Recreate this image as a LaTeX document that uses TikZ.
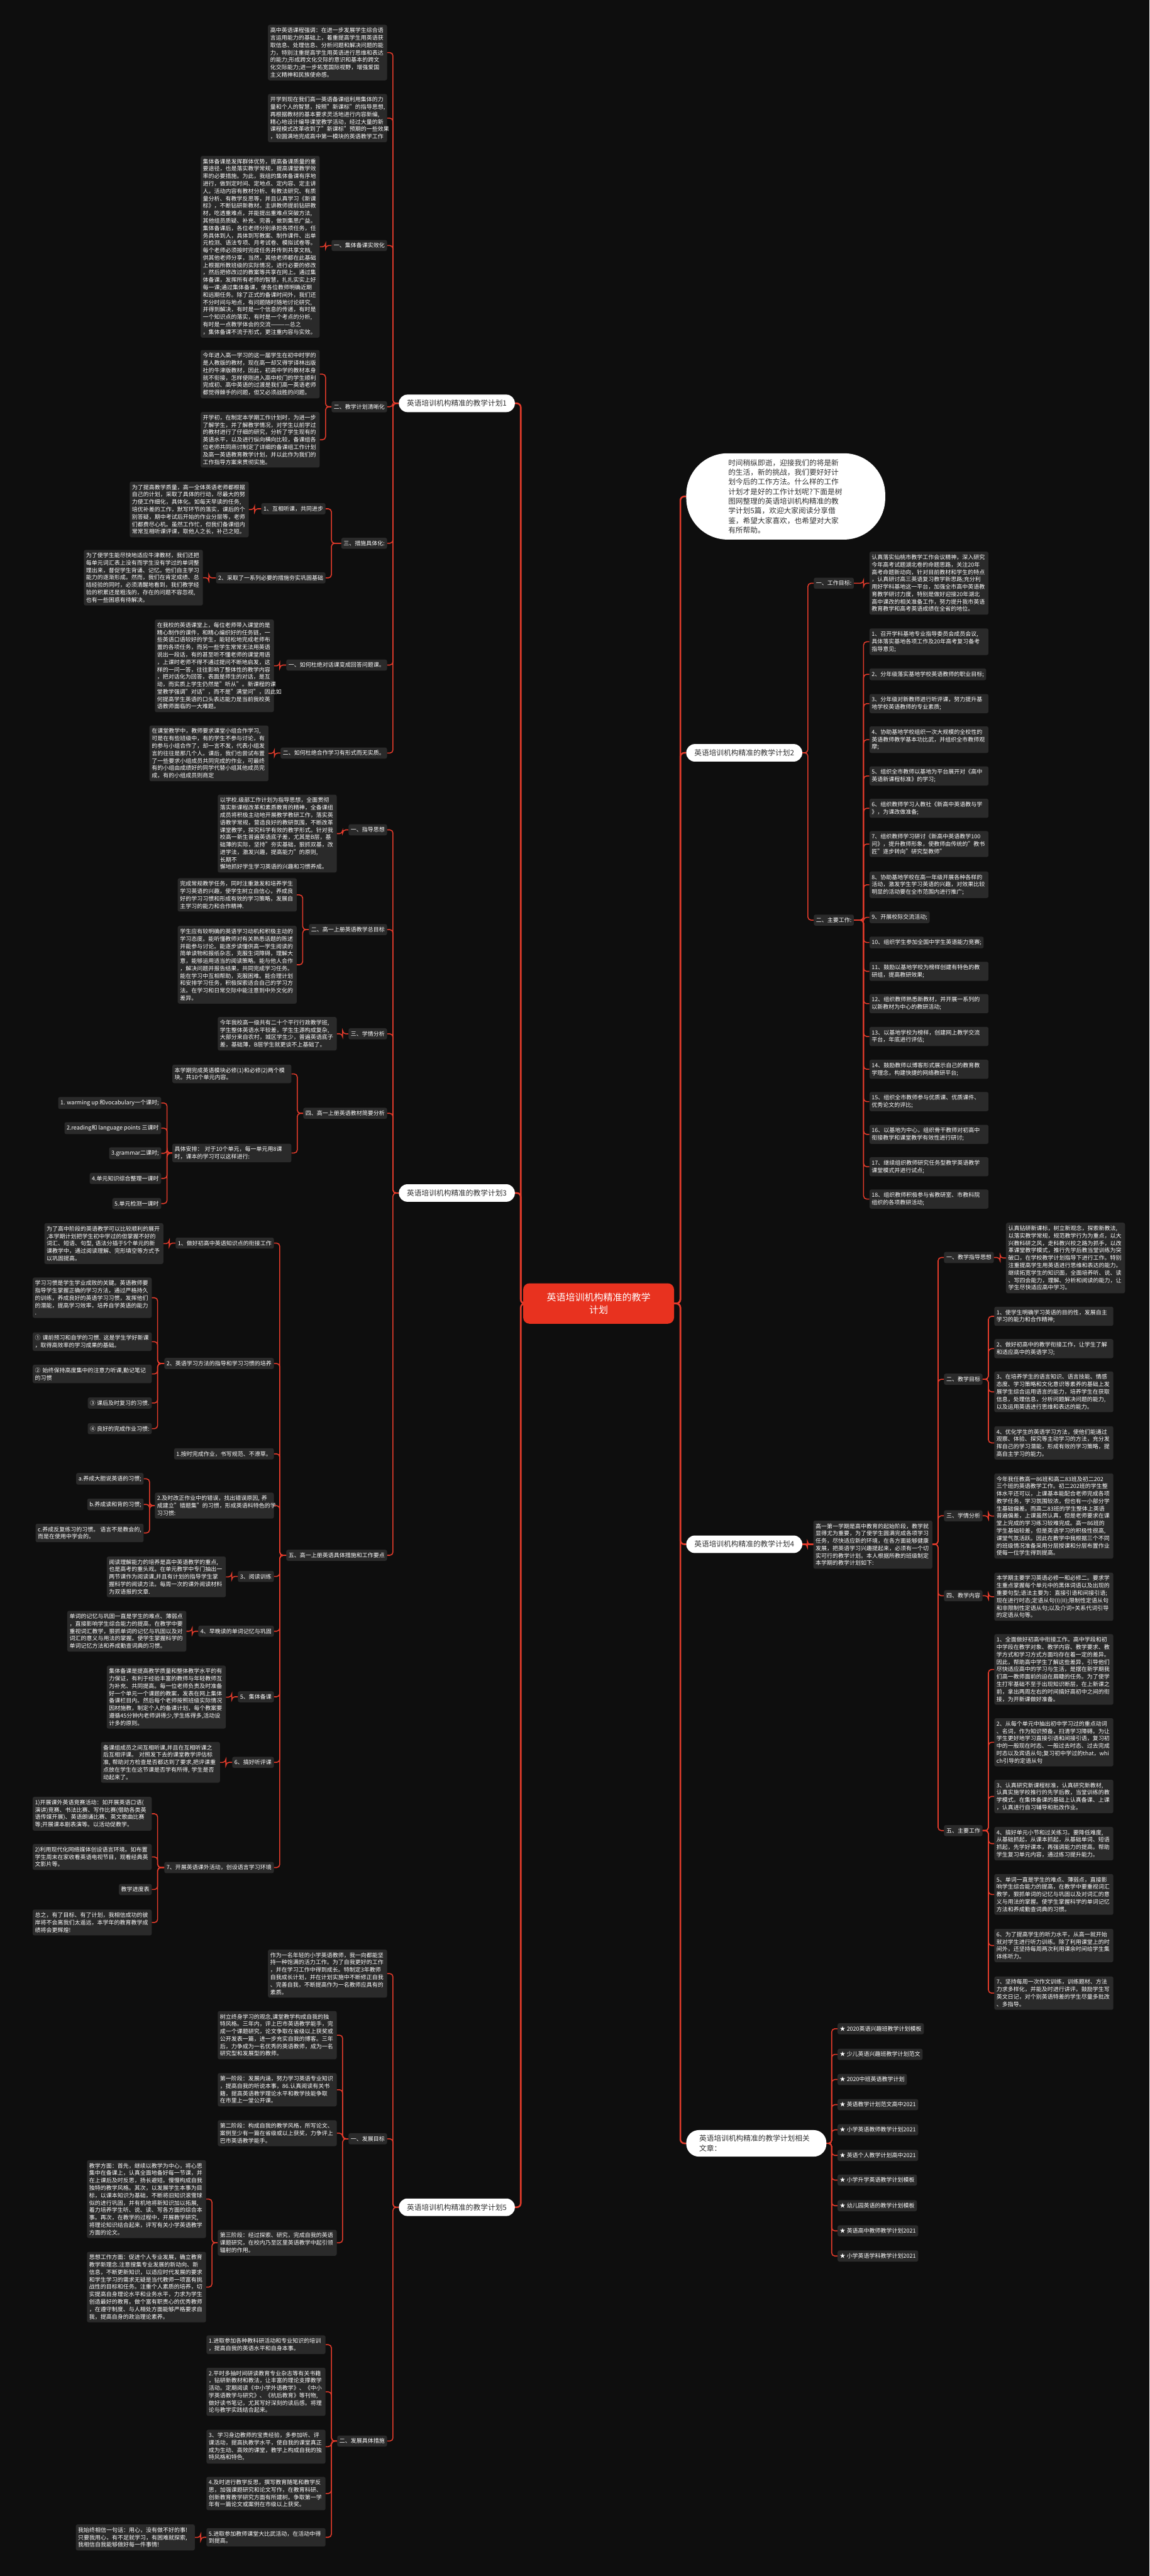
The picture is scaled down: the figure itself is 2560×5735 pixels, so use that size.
\documentclass[tikz,border=0pt]{standalone}
\usepackage{fontspec}
\setmainfont{Noto Sans CJK SC}
\definecolor{bgc}{HTML}{0E0E0E}
\definecolor{boxc}{HTML}{2A2A2A}
\definecolor{redc}{HTML}{E33B2B}
\definecolor{cenc}{HTML}{E8321F}
\definecolor{darkt}{HTML}{333333}
\pgfdeclarelayer{bg}\pgfdeclarelayer{lines}\pgfsetlayers{bg,lines,main}
\newcommand\linkL[3][conn]{\draw[#1] (#2.west) -- ([xshift=13pt]#3.east |- #2.west) -- ([xshift=13pt]#3.east) -- (#3.east);}
\newcommand\linkR[3][conn]{\draw[#1] (#2.east) -- ([xshift=-13pt]#3.west |- #2.east) -- ([xshift=-13pt]#3.west) -- (#3.west);}
\tikzset{
 box/.style={fill=boxc, rounded corners=4pt, text=white, inner xsep=5pt, inner ysep=6.5pt, font=\fontsize{12.6}{16.5}\selectfont, align=left},
 blk/.style={box, text width=255pt},
 lbl/.style={box, anchor=north east},
 rbl/.style={box, anchor=north west},
 lblk/.style={blk, anchor=north east},
 rblk/.style={blk, anchor=north west},
 plan/.style={fill=white, text=darkt, rounded corners=19pt, minimum height=39pt, inner xsep=18pt, font=\fontsize{16.4}{21}\selectfont, anchor=west},
 conn/.style={draw=redc, line width=2.2pt, rounded corners=7pt},
 mconn/.style={draw=redc, line width=3.6pt, rounded corners=9pt},
}
\begin{document}
\begin{tikzpicture}[x=1pt,y=-1pt]
\begin{pgfonlayer}{bg}
\fill[bgc] (0,0) rectangle (2560,5735);
\end{pgfonlayer}
\useasboundingbox (0,0) rectangle (2560,5735);

% ---------- centre ----------
\node[fill=cenc, text=white, rounded corners=14pt, minimum width=336pt, minimum height=90pt, align=center, font=\fontsize{21}{27}\selectfont] (C) at (1333,2902) {英语培训机构精准的教学\\计划};

% ---------- plan nodes ----------
\node[plan] (P1) at (888,898) {英语培训机构精准的教学计划1};
\node[plan] (P3) at (888,2656) {英语培训机构精准的教学计划3};
\node[plan] (P5) at (888,4914) {英语培训机构精准的教学计划5};
\node[plan] (P2) at (1528,1676) {英语培训机构精准的教学计划2};
\node[plan] (P4) at (1528,3438) {英语培训机构精准的教学计划4};
\node[fill=white, text=darkt, rounded corners=28pt, minimum width=312pt, minimum height=59pt, inner xsep=29pt, align=left, anchor=north west, font=\fontsize{16.4}{22}\selectfont, text width=254pt] (PR) at (1528,4742) {英语培训机构精准的教学计划相关\\文章：};
\node[fill=white, text=darkt, rounded corners=92pt, minimum width=443pt, minimum height=192pt, align=left, anchor=north west, font=\fontsize{16.4}{21.5}\selectfont, text width=256pt, inner xsep=93pt] (IN) at (1528,1009) {时间稍纵即逝，迎接我们的将是新\\的生活，新的挑战，我们要好好计\\划今后的工作方法。什么样的工作\\计划才是好的工作计划呢?下面是树\\图网整理的英语培训机构精准的教\\学计划5篇，欢迎大家阅读分享借\\鉴，希望大家喜欢，也希望对大家\\有所帮助。};

% ---------- plan 1 ----------
\node[lblk] (A1) at (862,55) {高中英语课程强调：在进一步发展学生综合语\\言运用能力的基础上，着重提高学生用英语获\\取信息、处理信息、分析问题和解决问题的能\\力，特别注重提高学生用英语进行思维和表达\\的能力;形成跨文化交际的意识和基本的跨文\\化交际能力;进一步拓宽国际视野，增强爱国\\主义精神和民族使命感。};
\node[lblk] (A2) at (862,209) {开学到现在我们高一英语备课组利用集体的力\\量和个人的智慧，按照"新课标"的指导思想,\\再根据教材的基本要求灵活地进行内容新编,\\精心地设计编导课堂教学活动，经过大量的新\\课程模式改革收到了"新课标"预期的一些效果\\，较圆满地完成高中第一模块的英语教学工作};
\node[lbl] (n11) at (862,534) {一、集体备课实效化};
\node[lblk] (A3) at (712,347) {集体备课是发挥群体优势，提高备课质量的重\\要途径，也是落实教学常规，提高课堂教学效\\率的必要措施。为此，我组的集体备课有序地\\进行，做到定时间、定地点、定内容、定主讲\\人。活动内容有教材分析、有教法研究、有质\\量分析、有教学反思等，并且认真学习《新课\\标》，不断钻研新教材。主讲教师提前钻研教\\材，吃透重难点，并能提出重难点突破方法,\\其他组员质疑、补充、完善，做到集思广益。\\集体备课后，各位老师分别承担各项任务，任\\务具体到人，具体到写教案、制作课件、出单\\元检测、语法专项、月考试卷、模拟试卷等。\\每个老师必须按时完成任务并传到共享文档,\\供其他老师分享，当然，其他老师都在此基础\\上根据所教班级的实际情况，进行必要的修改\\，然后把修改过的教案等共享在网上。通过集\\体备课，发挥所有老师的智慧，扎扎实实上好\\每一课;通过集体备课，使各位教师明确近期\\和远期任务。除了正式的备课时间外，我们还\\不分时间与地点，有问题随时随地讨论研究,\\并得到解决，有时是一个信息的传递，有时是\\一个知识点的落实，有时是一个考点的分析,\\有时是一点教学体会的交流————总之\\，集体备课不流于形式，更注重内容与实效。};
\node[lbl] (n12) at (862,893) {二、教学计划清晰化};
\node[lblk] (A4) at (712,779) {今年进入高一学习的这一届学生在初中时学的\\是人教版的教材，现在高一却又得学译林出版\\社的牛津版教材，因此，初高中学的教材本身\\就不衔接，怎样使刚进入高中校门的学生顺利\\完成初、高中英语的过渡是我们高一英语老师\\都觉得棘手的问题，但又必须战胜的问题。};
\node[lblk] (A5) at (712,917) {开学初，在制定本学期工作计划时，为进一步\\了解学生，并了解教学情况，对学生以前学过\\的教材进行了仔细的研究，分析了学生现有的\\英语水平，以及进行纵向横向比较，备课组各\\位老师共同商讨制定了详细的备课组工作计划\\及高一英语教育教学计划，并以此作为我们的\\工作指导方案来贯彻实施。};
\node[lbl] (n13) at (862,1197) {三、措施具体化:};
\node[lbl] (n131) at (725,1120) {1、互相听课，共同进步};
\node[lblk] (A6) at (554,1072) {为了提高教学质量，高一全体英语老师都根据\\自己的计划，采取了具体的行动，尽最大的努\\力使工作细化，具体化。如每天早读的任务,\\培优补差的工作，默写环节的落实，课后的个\\别答疑，期中考试后开始的作业分层等，老师\\们都费尽心机。虽然工作忙，但我们备课组内\\常常互相听课评课，取他人之长，补己之短。};
\node[lbl] (n132) at (725,1274) {2、采取了一系列必要的措施夯实巩固基础};
\node[lblk] (A7) at (452,1224) {为了使学生能尽快地适应牛津教材，我们还把\\每单元词汇表上没有而学生没有学过的单词整\\理出来，督促学生背诵、记忆。他们自主学习\\能力的逐渐形成。然而，我们在肯定成绩、总\\结经验的同时，必须清醒地看到，我们教学经\\验的积累还是粗浅的，存在的问题不容忽视,\\也有一些困惑有待解决。};
\node[lbl] (n14) at (862,1468) {一、如何杜绝对话课变成回答问题课。};
\node[lblk] (A8) at (610,1379) {在我校的英语课堂上，每位老师带入课堂的是\\精心制作的课件，和精心编织好的任务链，一\\些英语口语较好的学生，能轻松地完成老师布\\置的各项任务，而另一些学生常常无法用英语\\说出一段话，有的甚至听不懂老师的课堂用语\\，上课时老师不得不通过提问不断地启发，这\\样的一问一答，往往影响了整体性的教学内容\\，把对话化为回答，表面是师生的对话，是互\\动，而实质上学生仍然是"听从"。新课程的课\\堂教学强调"对话"，而不是"满堂问"，因此如\\何提高学生英语的口头表达能力是当前我校英\\语教师面临的一大难题。};
\node[lbl] (n15) at (862,1664) {二、如何杜绝合作学习有形式而无实质。};
\node[lblk] (A9) at (598,1615) {在课堂教学中，教师要求课堂小组合作学习,\\可是在有些班级中，有的学生不参与讨论，有\\的参与小组合作了，却一言不发，代表小组发\\言的往往是那几个人。课后，我们也尝试布置\\了一些要求小组成员共同完成的作业，可最终\\有的小组由成绩好的同学代替小组其他成员完\\成，有的小组成员则商定};

% ---------- plan 3 ----------
\node[lbl] (n31) at (862,1835) {一、指导思想};
\node[lblk] (B1) at (750,1769) {以学校.级部工作计划为指导思想，全面贯彻\\落实新课程改革和素质教育的精神，全备课组\\成员将积极主动地开展教学教研工作，落实英\\语教学常规，营造良好的教研氛围，不断改革\\课堂教学，探究科学有效的教学形式。针对我\\校高一新生普遍英语底子差，尤其是B层，基\\础薄的实际，坚持"夯实基础，狠抓双基，改\\进学法，激发兴趣，提高能力"的原则, 长期不\\懈地抓好学生学习英语的兴趣和习惯养成。};
\node[lbl] (n32) at (862,2057) {二、高一上册英语教学总目标};
\node[lblk] (B2) at (661,1955) {完成常规教学任务，同时注重激发和培养学生\\学习英语的兴趣，使学生树立自信心，养成良\\好的学习习惯和形成有效的学习策略，发展自\\主学习的能力和合作精神.};
\node[lblk] (B3) at (661,2061) {学生应有较明确的英语学习动机和积极主动的\\学习态度。能听懂教师对有关熟悉话题的陈述\\并能参与讨论。能逐步读懂供高一学生阅读的\\简单读物和报纸杂志，克服生词障碍，理解大\\意，能够运用适当的阅读策略。能与他人合作\\，解决问题并报告结果，共同完成学习任务。\\能在学习中互相帮助，克服困难。能合理计划\\和安排学习任务，积极探索适合自己的学习方\\法。在学习和日常交际中能注意到中外文化的\\差异。};
\node[lbl] (n33) at (862,2289) {三、学情分析};
\node[lblk] (B4) at (750,2264) {今年我校高一级共有二十个平行行政教学班,\\学生整体英语水平较差，学生生源构成复杂,\\大部分来自农村，城区学生少，普遍英语底子\\差，基础薄，B层学生就更谈不上基础了。};
\node[lbl] (n34) at (862,2466) {四、高一上册英语教材简要分析};
\node[lblk] (B5) at (649,2370) {本学期完成英语模块必修(1)和必修(2)两个模\\块。共10个单元内容。};
\node[lblk] (B6) at (649,2546) {具体安排： 对于10个单元，每一单元用8课\\时，课本的学习可以这样进行:};
\node[lbl] (B61) at (359,2442) {1. warming up 和vocabulary一个课时;};
\node[lbl] (B62) at (359,2498) {2.reading和 language points 三课时};
\node[lbl] (B63) at (359,2554) {3.grammar二课时;};
\node[lbl] (B64) at (359,2611) {4.单元知识综合整理一课时};
\node[lbl] (B65) at (359,2667) {5.单元检测一课时};
\node[lbl] (n35) at (862,3450) {五、高一上册英语具体措施和工作要点};
\node[lbl] (c1) at (610,2755) {1、做好初高中英语知识点的衔接工作};
\node[lblk] (C1) at (364,2723) {为了高中阶段的英语教学可以比较顺利的展开\\,本学期计划把学生初中学过的但掌握不好的\\词汇、短语、句型, 语法分插于5个单元的新\\课教学中，通过阅读理解、完形填空等方式予\\以巩固提高。};
\node[lbl] (c2) at (610,3023) {2、英语学习方法的指导和学习习惯的培养};
\node[lblk] (C2) at (338,2844) {学习习惯是学生学业成败的关键。英语教师要\\指导学生掌握正确的学习方法，通过严格持久\\的训练，养成良好的英语学习习惯，发挥他们\\的潜能，提高学习效率，培养自学英语的能力\\.};
\node[lblk] (C3) at (338,2966) {① 课前预习和自学的习惯. 这是学生学好新课\\，取得高效率的学习成果的基础。};
\node[lblk] (C4) at (338,3038) {② 始终保持高度集中的注意力听课,勤记笔记\\的习惯};
\node[lbl] (C5) at (338,3111) {③ 课后及时复习的习惯.};
\node[lbl] (C6) at (338,3168) {④ 良好的完成作业习惯:};
\node[lbl] (cb1) at (610,3224) {1.按时完成作业，书写规范、不潦草。};
\node[lblk] (cb2) at (610,3323) {2.及时改正作业中的错误，找出错误原因, 养\\成建立"错题集"的习惯，形成英语科特色的学\\习习惯:};
\node[lbl] (ca) at (320,3279) {a.养成大胆说英语的习惯;};
\node[lbl] (cb) at (320,3336) {b.养成读和背的习惯;};
\node[lbl] (cc) at (320,3392) {c.养成反复练习的习惯。 语言不是教会的,\\而是在使用中学会的。};
\node[lbl] (c3) at (610,3497) {3、阅读训练};
\node[lblk] (C7) at (503,3465) {阅读理解能力的培养是高中英语教学的重点,\\也是高考的重头戏。在单元教学中专门抽出一\\两节课作为阅读课,并且有计划的指导学生掌\\握科学的阅读方法。每周一次的课外阅读材料\\为双语报的文章.};
\node[lbl] (c4) at (610,3619) {4、早晚读的单词记忆与巩固};
\node[lblk] (C8) at (415,3586) {单词的记忆与巩固一直是学生的难点、薄弱点\\，直接影响学生综合能力的提高，在教学中要\\重视词汇教学，狠抓单词的记忆与巩固以及对\\词汇的意义与用法的掌握。使学生掌握科学的\\单词记忆方法和养成勤查词典的习惯。};
\node[lbl] (c5) at (610,3765) {5、集体备课};
\node[lblk] (C9) at (503,3708) {集体备课是提高教学质量和整体教学水平的有\\力保证，有利于经验丰富的教师与年轻教师互\\为补充、共同提高。每一位老师负责及时准备\\好一个单元一个课题的教案，发表在网上集体\\备课栏目内。然后每个老师按照班级实际情况\\因材施教，制定个人的备课计划，每个教案要\\遵循45分钟内老师讲得少,学生练得多,活动设\\计多的原则。};
\node[lbl] (c6) at (610,3911) {6、搞好听评课};
\node[lblk] (C10) at (490,3878) {备课组成员之间互相听课,并且在互相听课之\\后互相评课。 对照发下去的课堂教学评估标\\准, 帮助对方检查是否都达到了要求,把评课重\\点放在学生在这节课是否学有所得, 学生是否\\动起来了。};
\node[lbl] (c7) at (610,4145) {7、开展英语课外活动，创设语言学习环境};
\node[lblk] (C11) at (338,4000) {1)开展课外英语竞赛活动：如开展英语口语(\\演讲)竞赛、书法比赛、写作比赛(借助各类英\\语传媒开展)、英语朗诵比赛、英文歌曲比赛\\等;开展课本剧表演等。以活动促教学。};
\node[lblk] (C12) at (338,4105) {2)利用现代化网络媒体创设语言环境。如布置\\学生周末在家收看英语电视节目，观看经典英\\文影片等。};
\node[lbl] (C13) at (338,4194) {教学进度表};
\node[lblk] (C14) at (338,4251) {总之，有了目标、有了计划，我相信成功的彼\\岸将不会离我们太遥远，本学年的教育教学成\\绩将会更辉煌!};

% ---------- plan 5 ----------
\node[lblk] (D1) at (862,4340) {作为一名年轻的小学英语教师，我一向都能坚\\持一种饱满的活力工作。为了自我更好的工作\\，并在学习工作中得到成长。特制定3年教师\\自我成长计划，并在计划实施中不断修正自我\\、完善自我，不断提高作为一名教师应具有的\\素质。};
\node[lbl] (n51) at (862,4749) {一、发展目标};
\node[lblk] (D2) at (750,4477) {树立终身学习的观念,课堂教学构成自我的独\\特风格。三年内，评上巴市英语教学能手，完\\成一个课题研究，论文争取在省级以上获奖或\\公开发表一篇，进一步充实自我的博客。三年\\后，力争成为一名优秀的英语教师，成为一名\\研究型和发展型的教师。};
\node[lblk] (D3) at (750,4615) {第一阶段：发展内涵，努力学习英语专业知识\\，提高自我的听说本事，86.认真阅读有关书\\籍，提高英语教学理论水平和教学技能争取\\在市里上一堂公开课。};
\node[lblk] (D4) at (750,4720) {第二阶段：构成自我的教学风格，所写论文、\\案例至少有一篇在省级或以上获奖，力争评上\\巴市英语教学能手。};
\node[lblk] (D5) at (750,4964) {第三阶段：经过探索、研究，完成自我的英语\\课题研究，在校内乃至区里英语教学中起引领\\辐射的作用。};
\node[lblk] (D6) at (459,4809) {教学方面：首先，继续以教学为中心，将心思\\集中在备课上，认真全面地备好每一节课，并\\在上课后及时反思，扬长避短。慢慢构成自我\\独特的教学风格。其次，以发展学生本事为目\\标，以课本知识为基础，不断将旧知识滚雪球\\似的进行巩固，并有机地将新知识加以拓展,\\着力培养学生听、说、读、写各方面的综合本\\事。再次，在教学的过程中，开展教学研究,\\将理论知识结合起来，评写有关小学英语教学\\方面的论文。};
\node[lblk] (D7) at (459,5013) {思想工作方面：促进个人专业发展，确立教育\\教学新理念.注意搜集专业发展的新动向、新\\信息，不断更新知识，以适应时代发展的要求\\和学生学习的需求无疑是当代教师一项富有挑\\战性的目标和任务。注重个人素质的培养，切\\实提高自身理论水平和业务水平，力求为学生\\创造最好的教育。做个富有职责心的优秀教师\\，在遵守制度、与人相处方面能够严格要求自\\我，提高自身的政治理论素养。};
\node[lbl] (n52) at (862,5422) {二、发展具体措施};
\node[lblk] (E1) at (725,5199) {1.进取参加各种教科研活动和专业知识的培训\\，提高自我的英语水平和自身本事。};
\node[lblk] (E2) at (725,5271) {2.平时多抽时间研读教育专业杂志等有关书籍\\，钻研新教材和教法，让丰富的理论支撑教学\\活动。定期阅读《中小学外语教学》、《中小\\学英语教学与研究》、《杭后教育》等刊物,\\做好读书笔记，尤其写好深刻的读后感。将理\\论与教学实践结合起来。};
\node[lblk] (E3) at (725,5409) {3、学习身边教师的宝贵经验，多参加听、评\\课活动，提高执教学水平，使自我的课堂真正\\成为生动、高效的课堂，教学上构成自我的独\\特风格和特色,};
\node[lblk] (E4) at (725,5514) {4.及时进行教学反思，撰写教育随笔和教学反\\思，加强课题研究和论文写作，在教育科研、\\创新教育教学研究方面有所建树。争取第一学\\年有一篇论文或案例在市级以上获奖。};
\node[lblk] (E5) at (725,5628) {5.进取参加教师课堂大比武活动，在活动中得\\到提高。};
\node[lblk] (E6) at (434,5620) {我始终相信一句话：用心，没有做不好的事!\\只要我用心，有不足就学习，有困难就探索,\\我相信自我能够做好每一件事情!};

% ---------- plan 2 ----------
\node[rbl] (r21) at (1812,1286) {一、工作目标:};
\node[rblk] (F1) at (1936,1228) {认真落实仙桃市教学工作会议精神，深入研究\\今年高考试题湖北卷的命题思路，关注20年\\高考命题新动向，针对目前教材和学生的特点\\，认真研讨高三英语复习教学新思路;充分利\\用好学科基地这一平台，加强全市高中英语教\\育教学研讨力度，特别是做好迎接20年湖北\\高中课改的相关准备工作，努力提升我市英语\\教育教学和高考英语成绩在全省的地位。};
\node[rbl] (r22) at (1812,2036) {二、主要工作:};
\node[rblk] (G1) at (1936,1399) {1、召开学科基地专业指导委员会成员会议,\\具体落实基地各项工作及20年高考复习备考\\指导意见;};
\node[rbl] (G2) at (1936,1488) {2、分年级落实基地学校英语教师的职业目标;};
\node[rblk] (G3) at (1936,1545) {3、分年级对新教师进行听评课，努力提升基\\地学校英语教师的专业素质;};
\node[rblk] (G4) at (1936,1617) {4、协助基地学校组织一次大规模的全校性的\\英语教师教学基本功比武，并组织全市教师观\\摩;};
\node[rblk] (G5) at (1936,1706) {5、组织全市教师以基地为平台展开对《高中\\英语新课程标准》的学习;};
\node[rblk] (G6) at (1936,1778) {6、组织教师学习人教社《新高中英语教与学\\》，为课改做准备;};
\node[rblk] (G7) at (1936,1850) {7、组织教师学习研讨《新高中英语教学100\\问》，提升教师形象，使教师由传统的"教书\\匠"逐步转向"研究型教师"};
\node[rblk] (G8) at (1936,1940) {8、协助基地学校在高一年级开展各种各样的\\活动，激发学生学习英语的兴趣，对效果比较\\明显的活动要在全市范围内进行推广;};
\node[rbl] (G9) at (1936,2029) {9、开展校际交流活动;};
\node[rbl] (G10) at (1936,2085) {10、组织学生参加全国中学生英语能力竞赛;};
\node[rblk] (G11) at (1936,2141) {11、鼓励以基地学校为榜样创建有特色的教\\研组，提高教研效果;};
\node[rblk] (G12) at (1936,2213) {12、组织教师熟悉新教材，并开展一系列的\\以新教材为中心的教研活动;};
\node[rblk] (G13) at (1936,2286) {13、以基地学校为榜样，创建网上教学交流\\平台，年底进行评估;};
\node[rblk] (G14) at (1936,2359) {14、鼓励教师以博客形式展示自己的教育教\\学理念，构建快捷的网络教研平台;};
\node[rblk] (G15) at (1936,2431) {15、组织全市教师参与优质课、优质课件、\\优秀论文的评比;};
\node[rblk] (G16) at (1936,2504) {16、以基地为中心，组织骨干教师对初高中\\衔接教学和课堂教学有效性进行研讨;};
\node[rblk] (G17) at (1936,2576) {17、继续组织教师研究任务型教学英语教学\\课堂模式并进行试点;};
\node[rblk] (G18) at (1936,2648) {18、组织教师积极参与省教研室、市教科院\\组织的各项教研活动;};

% ---------- plan 4 ----------
\node[rblk] (H0) at (1811,3385) {高一第一学期是高中教育的起始阶段，教学就\\显得尤为重要，为了使学生圆满完成各项学习\\任务，尽快适应新的环境，在各方面能够健康\\发展，把英语学习兴趣提起来，必须有一个切\\实可行的教学计划。本人根据所教的班级制定\\本学期的教学计划如下:};
\node[rbl] (r41) at (2102,2787) {一、教学指导思想};
\node[rblk] (H1) at (2240,2722) {认真钻研新课标，树立新观念，探索新教法,\\以落实教学常规，规范教学行为为重点，以大\\兴教科研之风，走科教兴校之路为抓手，以改\\革课堂教学模式，推行先学后教当堂训练为突\\破口，在学校教学计划指导下进行工作。特别\\注重提高学生用英语进行思维和表达的能力。\\继续拓宽学生的知识面，全面培养听、说、读\\、写四会能力，理解、分析和阅读的能力，让\\学生尽快适应高中学习。};
\node[rbl] (r42) at (2102,3058) {二、教学目标};
\node[rblk] (H2) at (2214,2909) {1、使学生明确学习英语的目的性，发展自主\\学习的能力和合作精神;};
\node[rblk] (H3) at (2214,2981) {2、做好初高中的教学衔接工作，让学生了解\\和适应高中的英语学习;};
\node[rblk] (H4) at (2214,3053) {3、在培养学生的语言知识、语言技能、情感\\态度、学习策略和文化意识等素养的基础上发\\展学生综合运用语言的能力，培养学生在获取\\信息，处理信息，分析问题解决问题的能力,\\以及运用英语进行思维和表达的能力。};
\node[rblk] (H5) at (2214,3175) {4、优化学生的英语学习方法，使他们能通过\\观察、体验、探究等主动学习的方法，充分发\\挥自己的学习潜能，形成有效的学习策略，提\\高自主学习的能力。};
\node[rbl] (r43) at (2102,3362) {三、学情分析};
\node[rblk] (H6) at (2214,3280) {今年我任教高一86班和高二83班及初二202\\三个班的英语教学工作。初二202班的学生整\\体水平还可以，上课基本能配合老师完成各项\\教学任务，学习氛围较浓，但也有一小部分学\\生基础偏差。而高二83班的学生整体上英语\\普遍偏差，上课虽然认真，但是老师要求在课\\堂上完成的学习练习较难完成。高一86班的\\学生基础较差，但是英语学习的积极性很高,\\课堂气氛活跃。因此在教学中我根据三个不同\\的班级情况准备采用分层授课和分层布置作业\\使每一位学生得到提高。};
\node[rbl] (r44) at (2102,3540) {四、教学内容};
\node[rblk] (H7) at (2214,3501) {本学期主要学习英语必修一和必修二。要求学\\生重点掌握每个单元中的黑体词语以及出现的\\重要句型;语法主要为：直接引语和间接引语;\\现在进行时态;定语从句(I)(II);限制性定语从句\\和非限制性定语从句;以及介词+关系代词引导\\的定语从句等。};
\node[rbl] (r45) at (2102,4063) {五、主要工作};
\node[rblk] (J1) at (2214,3638) {1、全面做好初高中衔接工作。高中学段和初\\中学段在教学对象、教学内容、教学要求、教\\学方式和学习方式方面均存在着一定的差异。\\因此，帮助高中学生了解这些差异，引导他们\\尽快适应高中的学习与生活，是摆在新学期我\\们高一教师面前的迫在眉睫的任务。为了使学\\生打牢基础不至于出现知识断层，在上新课之\\前，拿出两周左右的时间搞好高初中之间的衔\\接，为开新课做好准备。};
\node[rblk] (J2) at (2214,3825) {2、从每个单元中抽出初中学习过的重点动词\\、名词，作为知识预备，扫清学习障碍。为让\\学生更好地学习直接引语和间接引语，复习初\\中的一般现在时态、一般过去时态、过去完成\\时态以及宾语从句;复习初中学过的that，whi\\ch引导的定语从句};
\node[rblk] (J3) at (2214,3962) {3、认真研究新课程标准，认真研究新教材,\\认真实施学校推行的先学后教，当堂训练的教\\学模式。在集体备课的基础上认真备课、上课\\，认真进行自习辅导和批改作业。};
\node[rblk] (J4) at (2214,4067) {4、搞好单元小节和过关练习。要降低难度,\\从基础抓起，从课本抓起，从基础单词、短语\\抓起，先学好课本，再强调能力的提高。帮助\\学生复习单元内容，通过练习提升能力。};
\node[rblk] (J5) at (2214,4172) {5、单词一直是学生的难点、薄弱点，直接影\\响学生综合能力的提高，在教学中要重视词汇\\教学，狠抓单词的记忆与巩固以及对词汇的意\\义与用法的掌握。使学生掌握科学的单词记忆\\方法和养成勤查词典的习惯。};
\node[rblk] (J6) at (2214,4294) {6、为了提高学生的听力水平，从高一就开始\\就对学生进行听力训练。除了利用课堂上的时\\间外，还坚持每周两次利用课余时间给学生集\\体练听力。};
\node[rblk] (J7) at (2214,4400) {7、坚持每周一次作文训练，训练题材、方法\\力求多样化，并能及时进行讲评。鼓励学生写\\英文日记，对个别英语特差的学生尽量多批改\\、多指导。};

% ---------- related ----------
\node[rbl] (K1) at (1865,4504) {★ 2020英语兴趣班教学计划模板};
\node[rbl] (K2) at (1865,4561) {★ 少儿英语兴趣班教学计划范文};
\node[rbl] (K3) at (1865,4617) {★ 2020中班英语教学计划};
\node[rbl] (K4) at (1865,4673) {★ 英语教学计划范文高中2021};
\node[rbl] (K5) at (1865,4729) {★ 小学英语教师教学计划2021};
\node[rbl] (K6) at (1865,4786) {★ 英语个人教学计划高中2021};
\node[rbl] (K7) at (1865,4841) {★ 小学升学英语教学计划模板};
\node[rbl] (K8) at (1865,4898) {★ 幼儿园英语的教学计划模板};
\node[rbl] (K9) at (1865,4954) {★ 英语高中教师教学计划2021};
\node[rbl] (K10) at (1865,5010) {★ 小学英语学科教学计划2021};

% ---------- connectors ----------
\begin{pgfonlayer}{lines}
\linkL[mconn]{C}{P1}\linkL[mconn]{C}{P3}\linkL[mconn]{C}{P5}
\linkR[mconn]{C}{IN}\linkR[mconn]{C}{P2}\linkR[mconn]{C}{P4}\linkR[mconn]{C}{PR}
\foreach \c in {A1,A2,n11,n12,n13,n14,n15} {\linkL{P1}{\c}}
\linkL{n11}{A3}\linkL{n12}{A4}\linkL{n12}{A5}
\linkL{n13}{n131}\linkL{n13}{n132}\linkL{n131}{A6}\linkL{n132}{A7}
\linkL{n14}{A8}\linkL{n15}{A9}
\foreach \c in {n31,n32,n33,n34,n35} {\linkL{P3}{\c}}
\linkL{n31}{B1}\linkL{n32}{B2}\linkL{n32}{B3}\linkL{n33}{B4}
\linkL{n34}{B5}\linkL{n34}{B6}
\foreach \c in {B61,B62,B63,B64,B65} {\linkL{B6}{\c}}
\foreach \c in {c1,c2,cb1,cb2,c3,c4,c5,c6,c7} {\linkL{n35}{\c}}
\linkL{c1}{C1}
\foreach \c in {C2,C3,C4,C5,C6} {\linkL{c2}{\c}}
\foreach \c in {ca,cb,cc} {\linkL{cb2}{\c}}
\linkL{c3}{C7}\linkL{c4}{C8}\linkL{c5}{C9}\linkL{c6}{C10}
\foreach \c in {C11,C12,C13,C14} {\linkL{c7}{\c}}
\foreach \c in {D1,n51,n52} {\linkL{P5}{\c}}
\foreach \c in {D2,D3,D4,D5} {\linkL{n51}{\c}}
\linkL{D5}{D6}\linkL{D5}{D7}
\foreach \c in {E1,E2,E3,E4,E5} {\linkL{n52}{\c}}
\linkL{E5}{E6}
\linkR{P2}{r21}\linkR{P2}{r22}\linkR{r21}{F1}
\foreach \c in {G1,G2,G3,G4,G5,G6,G7,G8,G9,G10,G11,G12,G13,G14,G15,G16,G17,G18} {\linkR{r22}{\c}}
\foreach \c in {H0,r41,r42,r43,r44,r45} {\linkR{P4}{\c}}
\linkR{r41}{H1}\linkR{r43}{H6}\linkR{r44}{H7}
\foreach \c in {H2,H3,H4,H5} {\linkR{r42}{\c}}
\foreach \c in {J1,J2,J3,J4,J5,J6,J7} {\linkR{r45}{\c}}
\foreach \c in {K1,K2,K3,K4,K5,K6,K7,K8,K9,K10} {\linkR{PR}{\c}}
\end{pgfonlayer}
\end{tikzpicture}
\end{document}
